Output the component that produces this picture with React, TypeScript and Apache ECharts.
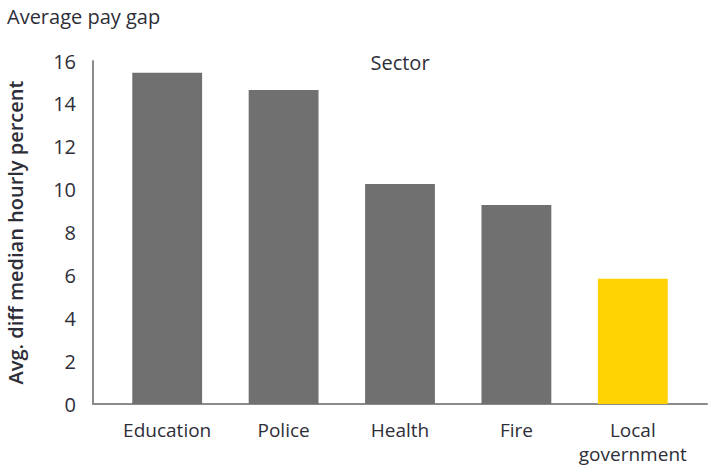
import React, { useEffect, useRef } from "react";
import * as echarts from "echarts";

const categories = ["Education", "Police", "Health", "Fire", "Local\ngovernment"];
const values = [15.45, 14.65, 10.26, 9.28, 5.84];
const barColors = ["#707070", "#707070", "#707070", "#707070", "#FFD200"];
const yTicks = { min: 0, max: 16, interval: 2 };

const FONT = "'Open Sans', 'DejaVu Sans', sans-serif";
const TEXT = "#2e2e38";
const FS = 20;

export default function App() {
  const ref = useRef<HTMLDivElement>(null);
  useEffect(() => {
    if (!ref.current) return;
    const chart = echarts.init(ref.current, null, { renderer: "svg" });
    chart.setOption({
      animation: false,
      textStyle: { fontFamily: FONT },
      title: {
        text: "Average pay gap",
        left: 7,
        top: 6,
        padding: [0, 0, 0, 0],
        textStyle: { fontFamily: FONT, fontSize: FS, fontWeight: "normal", color: TEXT },
      },
      grid: [
        { left: 93, right: 9, top: 61, bottom: 64, outerBoundsMode: "none", containLabel: false },
        { left: 109, right: 25, top: 61, bottom: 64, outerBoundsMode: "none", containLabel: false },
      ],
      xAxis: [
        {
          gridIndex: 0,
          type: "value",
          min: 0,
          max: 1,
          axisLine: { show: true, onZero: false, lineStyle: { color: "#8a8a8a", width: 2 } },
          axisTick: { show: false },
          axisLabel: { show: false },
          splitLine: { show: false },
          name: "Sector",
          nameLocation: "middle",
          nameGap: -352,
          nameTextStyle: { fontFamily: FONT, fontSize: FS, color: TEXT },
        },
        {
          gridIndex: 1,
          type: "category",
          data: categories,
          axisLine: { show: false },
          axisTick: { show: false },
          axisLabel: {
            fontFamily: FONT,
            fontSize: 19,
            color: TEXT,
            margin: 14,
            lineHeight: 24,
            interval: 0,
          },
        },
      ],
      yAxis: [
        {
          gridIndex: 0,
          type: "value",
          min: yTicks.min,
          max: yTicks.max,
          interval: yTicks.interval,
          axisLine: { show: true, lineStyle: { color: "#8a8a8a", width: 2 } },
          axisTick: { show: false },
          splitLine: { show: false },
          axisLabel: { fontFamily: FONT, fontSize: FS, color: TEXT, margin: 17 },
          name: "Avg. diff median hourly percent",
          nameLocation: "middle",
          nameGap: 68,
          nameRotate: 90,
          nameTextStyle: { fontFamily: FONT, fontSize: 20, fontWeight: 600, color: TEXT },
        },
        {
          gridIndex: 1,
          type: "value",
          min: yTicks.min,
          max: yTicks.max,
          interval: yTicks.interval,
          show: false,
        },
      ],
      series: [
        {
          type: "bar",
          xAxisIndex: 1,
          yAxisIndex: 1,
          barWidth: "60%",
          data: values.map((v, i) => ({ value: v, itemStyle: { color: barColors[i] } })),
        },
      ],
    });
    return () => chart.dispose();
  }, []);
  return (
    <div
      ref={ref}
      style={{ position: "absolute", left: 0, top: 0, width: 716, height: 468 }}
    />
  );
}
